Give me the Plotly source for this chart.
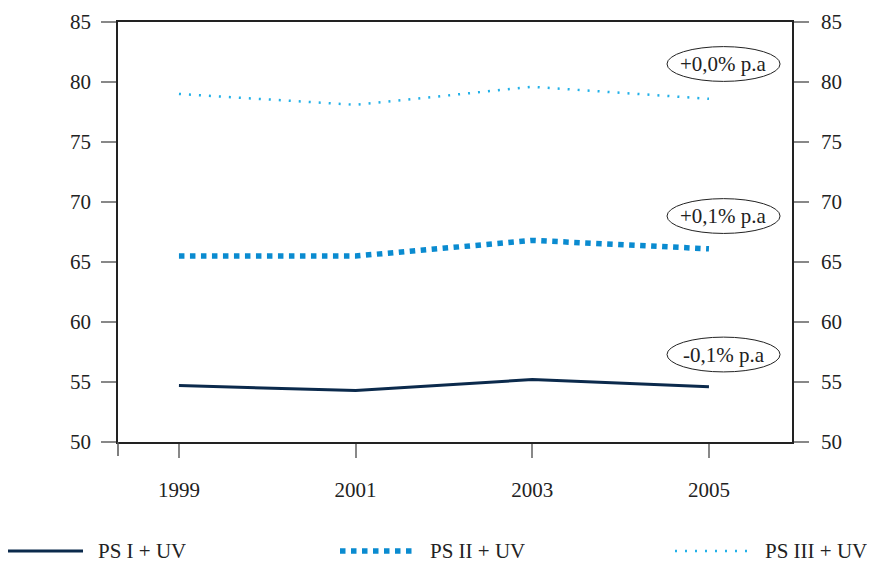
import plotly.graph_objects as go

years = [1999, 2001, 2003, 2005]
series_names = ["PS I + UV", "PS II + UV", "PS III + UV"]
ps1 = [54.7, 54.3, 55.2, 54.6]
ps2 = [65.5, 65.5, 66.8, 66.1]
ps3 = [79.0, 78.1, 79.6, 78.6]
growth_labels = ["-0,1% p.a", "+0,1% p.a", "+0,0% p.a"]
label_y = [57.29, 68.83, 81.5]
y_ticks = [50, 55, 60, 65, 70, 75, 80, 85]

colors = ["#0b2a4c", "#0a8bd0", "#21b0e8"]
widths = [3, 5.5, 2.5]
dashes = ["solid", "dot", "2px,8px"]

FONT = "Liberation Serif"
fs = 21
tf = dict(family=FONT, size=fs, color="#222")

fig = go.Figure()
for vals, name, c, w, d in zip([ps1, ps2, ps3], series_names, colors, widths, dashes):
    fig.add_trace(go.Scatter(x=years, y=vals, mode="lines", name=name,
                             line=dict(color=c, width=w, dash=d), showlegend=False))
# dummy trace for right axis
fig.add_trace(go.Scatter(x=[years[0]], y=[ps1[0]], yaxis="y2", mode="markers",
                         marker=dict(opacity=0), showlegend=False, hoverinfo="skip"))

xr = [1998.31, 2005.94]
yr = [50, 85]

fig.update_layout(
    width=885, height=555,
    margin=dict(l=110, r=101, t=14, b=121, autoexpand=False),
    paper_bgcolor="white", plot_bgcolor="white",
    font=tf,
    xaxis=dict(range=xr, tickvals=years, ticktext=[str(y) for y in years],
               showgrid=False, zeroline=False, showline=True, mirror=True,
               linecolor="#222", linewidth=1.5, ticks="outside", ticklen=14,
               tickcolor="#888", tickwidth=1.5, ticklabelstandoff=14, tickfont=tf,
               automargin=False),
    yaxis=dict(range=yr, tickvals=y_ticks, showgrid=False, zeroline=False,
               showline=True, linecolor="#222", linewidth=1.5, ticks="outside",
               ticklen=15, tickcolor="#888", tickwidth=1.5, ticklabelstandoff=6,
               tickfont=tf, automargin=False),
    yaxis2=dict(range=yr, tickvals=y_ticks, overlaying="y", side="right",
                showgrid=False, zeroline=False, showline=True, linecolor="#222",
                linewidth=1.5, ticks="outside", ticklen=15, tickcolor="#888",
                tickwidth=1.5, ticklabelstandoff=8, tickfont=tf, automargin=False),
)

# left axis line extension below plot
fig.add_shape(type="line", xref="paper", yref="paper", x0=0, x1=0, y0=0, y1=-14/420,
              line=dict(color="#555", width=1.5))

# growth annotations with ellipses
for lab, yc in zip(growth_labels, label_y):
    fig.add_shape(type="circle", xref="x", yref="y", x0=2004.525, x1=2005.805,
                  y0=yc - 1.45, y1=yc + 1.45, line=dict(color="#222", width=1))
    fig.add_annotation(x=2005.165, y=yc, xref="x", yref="y", text=lab, showarrow=False,
                       font=tf)

# custom legend
leg_y = (442 - 551) / 420
starts = [8, 340, 675]
for name, c, w, d, s in zip(series_names, colors, widths, dashes, starts):
    x0 = (s - 118) / 674
    x1 = (s + 75 - 118) / 674
    fig.add_shape(type="line", xref="paper", yref="paper", x0=x0, x1=x1, y0=leg_y, y1=leg_y,
                  line=dict(color=c, width=w, dash=d))
    fig.add_annotation(x=(s + 89 - 118) / 674, y=leg_y, xref="paper", yref="paper",
                       text=name, showarrow=False, xanchor="left", yanchor="middle",
                       height=16, valign="middle", borderpad=0,
                       font=tf)

fig.write_html("out.html")
